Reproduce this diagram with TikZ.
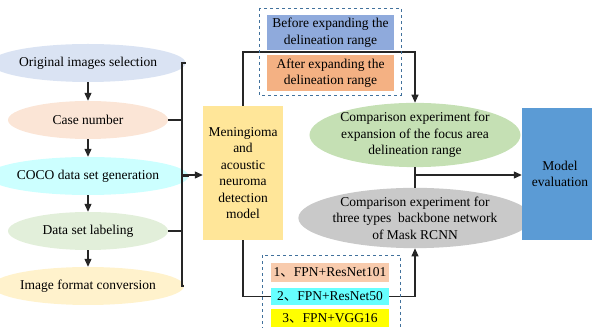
\documentclass[tikz,border=0pt]{standalone}
\usepackage{fontspec}
\setmainfont{Liberation Serif}
\newfontfamily\cjk{Noto Sans CJK SC}
\usetikzlibrary{shapes.geometric,arrows.meta,backgrounds}

\definecolor{origblue}{HTML}{DAE3F3}
\definecolor{casepeach}{HTML}{FBE5D6}
\definecolor{cococyan}{HTML}{CCFFFF}
\definecolor{labgreen}{HTML}{E2EFDA}
\definecolor{convyellow}{HTML}{FFF2CC}
\definecolor{modelgold}{HTML}{FFE699}
\definecolor{beforeblue}{HTML}{8FAADC}
\definecolor{afterorange}{HTML}{F4B183}
\definecolor{expgreen}{HTML}{C5E0B4}
\definecolor{expgray}{HTML}{C9C9C9}
\definecolor{evalblue}{HTML}{5B9BD5}
\definecolor{netsalmon}{HTML}{F8CBAD}
\definecolor{netcyan}{HTML}{66FFFF}
\definecolor{netyellow}{HTML}{FFFF00}
\definecolor{framedash}{HTML}{41719C}

\begin{document}
\begin{tikzpicture}[x=1pt,y=-1pt,
      font=\fontsize{13.5}{16.5}\selectfont,
      prep/.style={ellipse,inner sep=0pt,minimum width=160pt,minimum height=38pt},
      exper/.style={ellipse,inner sep=0pt,minimum width=190pt,minimum height=62pt,align=center},
      block/.style={inner sep=0pt,align=center},
      frame/.style={draw=framedash,dashed,line width=0.8pt},
      link/.style={line width=1.1pt,black!85},
      arr/.style={link,-{Triangle[length=8pt,width=7pt]}}]
    \useasboundingbox (0,0) rectangle (592,328);
    % data preparation chain on the left
    \foreach \y/\c/\t/\n in {63/origblue/Original images selection/e1,
        120/casepeach/Case number/e2,
        176/cococyan/COCO data set generation/e3,
        231/labgreen/Data set labeling/e4,
        286/convyellow/Image format conversion/e5}{
      \node[prep,fill=\c] (\n) at (88,\y) {\t};}
    \foreach \a/\b in {e1/e2,e2/e3,e3/e4,e4/e5}{
      \draw[arr] (\a) -- (\b);}
    \coordinate (br1) at (182,63);
    \coordinate (br5) at (182,286);
    \node[block,fill=modelgold,minimum width=80pt,minimum height=134pt] (model) at (243,173)
      {Meningioma\\and\\acoustic\\neuroma\\detection\\model};
    \draw[link] (e1.east) -- (br1) -- (br5) -- (e5.east);
    \foreach \n in {e2,e3,e4}{\draw[link] (\n.east) -- (\n.east -| br1);}
    \draw[arr] (br1 |- 0,175) -- (model.west |- 0,175);
    % delineation range variants
    \draw[frame] (259,8) rectangle (401,95);
    \node[block,fill=beforeblue,minimum width=127pt,minimum height=35pt] (before) at (330.5,32.5)
      {Before expanding the\\delineation range};
    \node[block,fill=afterorange,minimum width=127pt,minimum height=36pt] (after) at (330.5,73)
      {After expanding the\\delineation range};
    \coordinate (gap) at (330,52);
    % backbone variants
    \draw[frame] (262,330) -- (262,255) -- (400,255) -- (400,330);
    \node[block,fill=netsalmon,minimum width=118pt,minimum height=19pt] (b1) at (330,272.5)
      {1{\cjk 、}FPN+ResNet101};
    \node[block,fill=netcyan,minimum width=118pt,minimum height=17pt] (b2) at (330,296.5)
      {2{\cjk 、}FPN+ResNet50};
    \node[block,fill=netyellow,minimum width=118pt,minimum height=18pt] (b3) at (330,318)
      {3{\cjk 、}FPN+VGG16};
    % experiments and evaluation
    \node[exper,fill=expgreen] (cmp1) at (415,135)
      {Comparison experiment for\\expansion of the focus area\\delineation range};
    \node[exper,fill=expgray,minimum height=60pt] (cmp2) at (415,218)
      {Comparison experiment for\\three types~ backbone network\\of Mask RCNN};
    \node[block,fill=evalblue,minimum width=76pt,minimum height=132pt] (eval) at (560,174)
      {Model\\evaluation};
    \begin{scope}[on background layer]
      \draw[arr] (model.north) |- (gap) -| (cmp1.north);
      \draw[arr] (model.south) |- (b2.center) -| (cmp2.south);
    \end{scope}
    \draw[link] (cmp1.south) -- (cmp2.north);
    \draw[arr] (cmp1.south |- 0,175) -- (eval.west |- 0,175);
  \end{tikzpicture}
\end{document}
